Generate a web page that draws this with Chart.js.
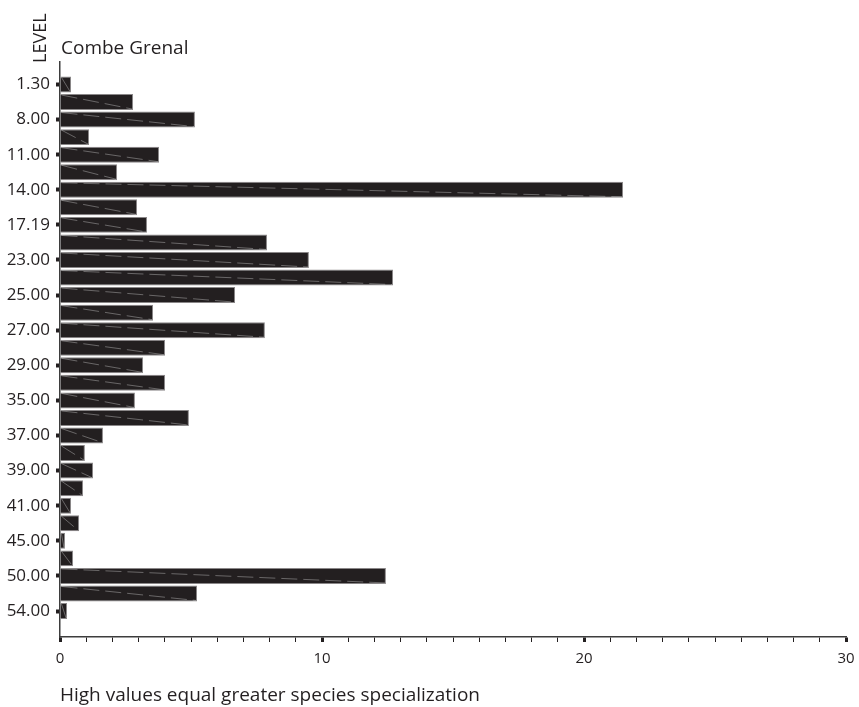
<!DOCTYPE html>
<html>
<head>
<meta charset="utf-8">
<title>Combe Grenal</title>
<script src="https://cdn.jsdelivr.net/npm/chart.js@4/dist/chart.umd.min.js"></script>
<style>
  html, body { margin: 0; padding: 0; background: #fff; }
  #wrap { width: 859px; height: 707px; position: relative; }
</style>
</head>
<body>
<div id="wrap"><canvas id="chart"></canvas></div>
<script>
/* ---------- data ---------- */
// one entry per bar, top to bottom; every other bar carries a level label
var LEVELS = [
  '1.30', '', '8.00', '', '11.00', '', '14.00', '', '17.19', '',
  '23.00', '', '25.00', '', '27.00', '', '29.00', '', '35.00', '',
  '37.00', '', '39.00', '', '41.00', '', '45.00', '', '50.00', '',
  '54.00'
];
var VALUES = [
  0.42, 2.79, 5.15, 1.11, 3.78, 2.18, 21.49, 2.94, 3.32, 7.90,
  9.50, 12.71, 6.68, 3.55, 7.82, 4.01, 3.17, 4.01, 2.86, 4.92,
  1.64, 0.95, 1.26, 0.88, 0.42, 0.73, 0.19, 0.50, 12.44, 5.23,
  0.27
];
var X_LABELS = [0, 10, 20, 30];

var TITLE   = 'Combe Grenal';
var Y_TITLE = 'LEVEL';
var X_TITLE = 'High values equal greater species specialization';

var INK  = '#231f20';
var FONT = '"Open Sans", "DejaVu Sans", sans-serif';

/* ---------- chart title + rotated LEVEL label ---------- */
var headings = {
  id: 'headings',
  afterDraw: function (chart) {
    var ctx = chart.ctx, a = chart.chartArea;
    ctx.save();
    ctx.fillStyle = INK;
    ctx.font = '19px ' + FONT;
    ctx.textAlign = 'left';
    ctx.textBaseline = 'alphabetic';
    ctx.fillText(TITLE, a.left + 1, 54);

    ctx.translate(46, 63);
    ctx.rotate(-Math.PI / 2);
    ctx.font = '18px ' + FONT;
    ctx.fillText(Y_TITLE, 0, 0);
    ctx.restore();
  }
};

/* ---------- faint diagonal streak across each bar ---------- */
var streaks = {
  id: 'streaks',
  afterDatasetsDraw: function (chart) {
    var ctx = chart.ctx;
    ctx.save();
    ctx.strokeStyle = 'rgba(210,210,210,0.5)';
    ctx.lineWidth = 0.8;
    ctx.setLineDash([16, 6]);
    chart.getDatasetMeta(0).data.forEach(function (bar) {
      var p = bar.getProps(['x', 'y', 'base', 'height'], true);
      ctx.beginPath();
      ctx.moveTo(p.base + 1, p.y - p.height / 2 + 1);
      ctx.lineTo(p.x - 1, p.y + p.height / 2 - 1);
      ctx.stroke();
    });
    ctx.restore();
  }
};

new Chart(document.getElementById('chart'), {
  type: 'bar',
  data: {
    datasets: [{
      data: VALUES.map(function (v, i) { return { x: v, y: i }; }),
      backgroundColor: INK,
      borderColor: '#8a8788',
      borderWidth: 1,
      barPercentage: 0.91,
      categoryPercentage: 1
    }]
  },
  options: {
    indexAxis: 'y',
    responsive: true,
    maintainAspectRatio: false,
    animation: false,
    layout: { padding: { top: 62, right: 13, left: 0, bottom: 0 } },
    plugins: {
      legend: { display: false },
      tooltip: { enabled: false }
    },
    scales: {
      y: {
        type: 'linear',
        reverse: true,
        offset: false,
        min: -1.28,
        max: 31.48,
        afterBuildTicks: function (s) {
          s.ticks = LEVELS.map(function (l, i) { return { value: i }; });
        },
        afterFit: function (s) { s.width = 60; },
        grid: {
          offset: false,
          drawOnChartArea: false,
          tickLength: 4,
          tickWidth: 4,
          tickColor: function (c) {
            return LEVELS[c.index] ? INK : 'rgba(0,0,0,0)';
          }
        },
        border: { color: '#3d3d3d', width: 1.5 },
        ticks: {
          autoSkip: false,
          padding: 6,
          color: INK,
          font: { family: FONT, size: 17 },
          callback: function (v) { return LEVELS[v] || ''; }
        }
      },
      x: {
        type: 'linear',
        min: 0,
        max: 30,
        afterFit: function (s) { s.height = 70; s.paddingRight = 0; },
        grid: {
          drawOnChartArea: false,
          tickLength: 5,
          tickWidth: function (c) {
            return X_LABELS.indexOf(c.tick.value) >= 0 ? 3 : 1;
          },
          tickColor: INK
        },
        border: { color: '#3d3d3d', width: 1.5 },
        ticks: {
          stepSize: 1,
          autoSkip: false,
          maxRotation: 0,
          padding: 8,
          color: INK,
          font: { family: FONT, size: 15 },
          callback: function (v) { return X_LABELS.indexOf(v) >= 0 ? String(v) : ''; }
        },
        title: {
          display: true,
          text: X_TITLE,
          align: 'start',
          color: INK,
          font: { family: FONT, size: 19 },
          padding: { top: 0, bottom: 0 }
        }
      }
    }
  },
  plugins: [headings, streaks]
});
</script>
</body>
</html>
